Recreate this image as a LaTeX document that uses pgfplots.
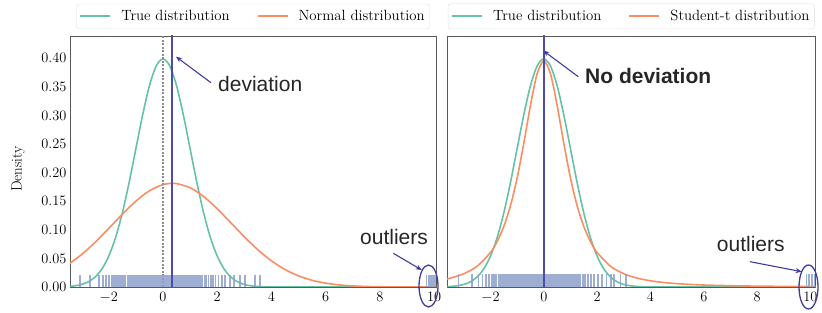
\documentclass[border=0pt]{standalone}
\usepackage{fontspec}
\usepackage{pgfplots}
\pgfplotsset{compat=1.18}
\usetikzlibrary{arrows.meta}
\newfontfamily\annfont{Liberation Sans}
\definecolor{cgreen}{HTML}{66C2A5}
\definecolor{corange}{HTML}{FC8D62}
\definecolor{crug}{HTML}{8DA0CB}
\definecolor{cline}{HTML}{4F4BAA}
\definecolor{carrow}{HTML}{3F3C9C}

\pgfplotstableread{
x y
-3.75 0.00035
-3.50 0.00087
-3.25 0.00203
-3.00 0.00443
-2.75 0.00909
-2.50 0.01753
-2.25 0.03174
-2.00 0.05399
-1.75 0.08628
-1.50 0.12952
-1.25 0.18265
-1.00 0.24197
-0.75 0.30114
-0.50 0.35207
-0.25 0.38667
0.00 0.39894
0.25 0.38667
0.50 0.35207
0.75 0.30114
1.00 0.24197
1.25 0.18265
1.50 0.12952
1.75 0.08628
2.00 0.05399
2.25 0.03174
2.50 0.01753
2.75 0.00909
3.00 0.00443
3.25 0.00203
3.50 0.00087
3.75 0.00035
4.00 0.00013
4.50 0.00002
5.00 0.0
6.00 0.0
7.00 0.0
8.00 0.0
9.00 0.0
10.00 0.0
10.50 0.0
}\truedist

\pgfplotstableread{
x y
-3.5 0.03922
-3.0 0.05688
-2.5 0.07835
-2.0 0.10251
-1.5 0.12733
-1.0 0.15021
-0.5 0.16829
0.0 0.17905
0.35 0.18133
0.5 0.18091
1.0 0.17359
1.5 0.15818
2.0 0.13688
2.5 0.11249
3.0 0.08778
3.5 0.06506
4.0 0.04579
4.5 0.03061
5.0 0.01943
5.5 0.01171
6.0 0.00671
6.5 0.00364
7.0 0.00188
7.5 0.00092
8.0 0.00043
8.5 0.00019
9.0 0.00008
9.5 0.00003
10.0 0.00001
10.5 0.0
}\normdist

\pgfplotstableread{
x y
-4.0 0.01085
-3.75 0.01292
-3.5 0.01554
-3.0 0.02320
-2.5 0.03640
-2.0 0.06041
-1.75 0.07950
-1.5 0.10594
-1.25 0.14228
-1.0 0.19082
-0.75 0.25151
-0.5 0.31778
-0.25 0.37296
0.0 0.39500
0.25 0.37296
0.5 0.31778
0.75 0.25151
1.0 0.19082
1.25 0.14228
1.5 0.10594
1.75 0.07950
2.0 0.06041
2.5 0.03640
3.0 0.02320
3.5 0.01554
4.0 0.01085
4.5 0.00784
5.0 0.00584
5.5 0.00446
6.0 0.00347
7.0 0.00223
8.0 0.00151
9.0 0.00107
10.0 0.00078
10.5 0.00068
}\tdist

\begin{document}
\begin{tikzpicture}
\useasboundingbox (0,0) rectangle (822pt,313pt);
\pgfplotsset{
  myax/.style={
    scale only axis, height=251pt, anchor=south west,
    ymin=0, ymax=0.439,
    axis line style={black!65, line width=0.9pt},
    major tick length=0pt,
    tick label style={font=\fontsize{15}{17}\selectfont},
    xticklabel style={yshift=-1.5pt},
    xtick={-2,0,2,4,6,8,10},
    legend style={at={(0.5,1)}, anchor=south, yshift=7pt, legend columns=2,
      draw=black!12, rounded corners=2.5pt, font=\fontsize{14.8}{17}\selectfont,
      inner xsep=3pt, inner ysep=4.5pt,
      /tikz/every even column/.append style={column sep=25pt},
      /tikz/every odd column/.append style={column sep=8pt}},
    every axis plot/.append style={line width=1.6pt},
  }
}
% ---------- left panel ----------
\begin{axis}[myax, at={(70pt,26pt)}, width=366pt, xmin=-3.43, xmax=10.07,
  ytick={0,0.05,0.1,0.15,0.2,0.25,0.3,0.35,0.4},
  yticklabel style={/pgf/number format/.cd, fixed, fixed zerofill, precision=2},
  ylabel={Density},
  ylabel style={at={(axis description cs:-0.142,0.47)}, anchor=center, rotate=0, font=\fontsize{15}{17}\selectfont},
]
\addplot[cgreen, smooth, legend image code/.code={\draw[cgreen, line width=2pt] (0pt,0pt) -- (30pt,0pt);}] table {\truedist};
\addlegendentry{True distribution}
\addplot[corange, smooth, legend image code/.code={\draw[corange, line width=2pt] (0pt,0pt) -- (30pt,0pt);}] table {\normdist};
\addlegendentry{Normal distribution}
\addplot[black!45, line width=1.2pt, dash pattern=on 2pt off 1.5pt, forget plot] coordinates {(0,0) (0,0.44)};
\addplot[ycomb, crug, opacity=0.85, line width=1.8pt, forget plot] coordinates {
(-3.06,0.021) (-2.70,0.021) (-2.35,0.021) (-2.21,0.021) (-2.10,0.021) (-1.98,0.021) (-1.90,0.021) (-1.84,0.021)
(-1.77,0.021) (-1.70,0.021) (-1.62,0.021) (-1.55,0.021) (-1.49,0.021) (-1.43,0.021) (-1.38,0.021) (-1.31,0.021)
(-1.27,0.021) (-1.22,0.021) (-1.16,0.021) (-1.11,0.021) (-1.05,0.021) (-1.01,0.021) (-0.96,0.021) (-0.92,0.021)
(-0.87,0.021) (-0.83,0.021) (-0.79,0.021) (-0.74,0.021) (-0.70,0.021) (-0.66,0.021) (-0.61,0.021) (-0.58,0.021)
(-0.53,0.021) (-0.49,0.021) (-0.45,0.021) (-0.41,0.021) (-0.37,0.021) (-0.33,0.021) (-0.29,0.021) (-0.25,0.021)
(-0.21,0.021) (-0.17,0.021) (-0.14,0.021) (-0.10,0.021) (-0.06,0.021) (-0.02,0.021) (0.02,0.021) (0.05,0.021)
(0.09,0.021) (0.13,0.021) (0.17,0.021) (0.20,0.021) (0.24,0.021) (0.28,0.021) (0.31,0.021) (0.35,0.021)
(0.39,0.021) (0.43,0.021) (0.47,0.021) (0.51,0.021) (0.55,0.021) (0.59,0.021) (0.63,0.021) (0.68,0.021)
(0.72,0.021) (0.77,0.021) (0.81,0.021) (0.86,0.021) (0.90,0.021) (0.95,0.021) (1.00,0.021) (1.05,0.021)
(1.10,0.021) (1.15,0.021) (1.21,0.021) (1.27,0.021) (1.33,0.021) (1.39,0.021) (1.46,0.021) (1.53,0.021)
(1.60,0.021) (1.68,0.021) (1.76,0.021) (1.85,0.021) (1.94,0.021) (2.05,0.021) (2.17,0.021) (2.30,0.021)
(2.46,0.021) (2.62,0.021) (2.85,0.021) (3.02,0.021) (3.40,0.021) (3.58,0.021)
(9.72,0.021) (9.80,0.021) (9.88,0.021) (9.96,0.021) (10.03,0.021)
};
\addplot[cline, line width=2pt, forget plot] coordinates {(0.35,0) (0.35,0.44)};
\end{axis}
% ---------- right panel ----------
\begin{axis}[myax, at={(447pt,26pt)}, width=368.5pt, xmin=-3.63, xmax=10.19,
  ytick=\empty,
]
\addplot[cgreen, smooth, legend image code/.code={\draw[cgreen, line width=2pt] (0pt,0pt) -- (30pt,0pt);}] table {\truedist};
\addlegendentry{True distribution}
\addplot[corange, smooth, legend image code/.code={\draw[corange, line width=2pt] (0pt,0pt) -- (30pt,0pt);}] table {\tdist};
\addlegendentry{Student-t distribution}
\addplot[ycomb, crug, opacity=0.85, line width=1.8pt, forget plot] coordinates {
(-3.20,0.022) (-2.68,0.022) (-2.45,0.022) (-2.30,0.022) (-2.18,0.022) (-2.05,0.022) (-1.95,0.022) (-1.86,0.022)
(-1.78,0.022) (-1.70,0.022) (-1.63,0.022) (-1.56,0.022) (-1.50,0.022) (-1.44,0.022) (-1.38,0.022) (-1.32,0.022)
(-1.26,0.022) (-1.21,0.022) (-1.15,0.022) (-1.10,0.022) (-1.05,0.022) (-1.00,0.022) (-0.95,0.022) (-0.90,0.022)
(-0.86,0.022) (-0.81,0.022) (-0.77,0.022) (-0.72,0.022) (-0.68,0.022) (-0.64,0.022) (-0.59,0.022) (-0.55,0.022)
(-0.51,0.022) (-0.47,0.022) (-0.43,0.022) (-0.39,0.022) (-0.35,0.022) (-0.31,0.022) (-0.27,0.022) (-0.23,0.022)
(-0.19,0.022) (-0.15,0.022) (-0.11,0.022) (-0.07,0.022) (-0.03,0.022) (0.01,0.022) (0.05,0.022) (0.09,0.022)
(0.13,0.022) (0.17,0.022) (0.21,0.022) (0.25,0.022) (0.29,0.022) (0.33,0.022) (0.37,0.022) (0.41,0.022)
(0.46,0.022) (0.50,0.022) (0.54,0.022) (0.59,0.022) (0.63,0.022) (0.68,0.022) (0.73,0.022) (0.78,0.022)
(0.83,0.022) (0.88,0.022) (0.93,0.022) (0.99,0.022) (1.05,0.022) (1.11,0.022) (1.17,0.022) (1.24,0.022)
(1.31,0.022) (1.38,0.022) (1.46,0.022) (1.55,0.022) (1.65,0.022) (1.76,0.022) (1.88,0.022) (2.02,0.022)
(2.18,0.022) (2.35,0.022) (2.52,0.022) (2.64,0.022) (2.88,0.022) (3.08,0.022)
(9.85,0.022) (9.95,0.022) (10.05,0.022) (10.15,0.022)
};
\addplot[cline, line width=2pt, forget plot] coordinates {(0,0) (0,0.44)};
\end{axis}
% ---------- annotations ----------
\begin{scope}[carrow, line width=1.1pt, >={Stealth[length=6pt,width=5pt]}]
\draw[->] (211pt,230.3pt) -- (176pt,256.3pt);
\draw[->] (578.3pt,236.3pt) -- (543.3pt,262.3pt);
\draw[->] (393.3pt,59.7pt) -- (421.7pt,43pt);
\draw[->] (750pt,51.3pt) -- (801.7pt,41.3pt);
\draw[line width=1.3pt] (428.5pt,27pt) ellipse [x radius=9.5pt, y radius=21pt];
\draw[line width=1.3pt] (808.5pt,26pt) ellipse [x radius=9.5pt, y radius=22pt];
\end{scope}
\node[anchor=base west, inner sep=0pt, text=black!85, font=\annfont\fontsize{21}{25}\selectfont] at (218pt,221pt) {deviation};
\node[anchor=base west, inner sep=0pt, text=black!85, font=\annfont\bfseries\fontsize{21}{25}\selectfont] at (585pt,229pt) {No deviation};
\node[anchor=base west, inner sep=0pt, text=black!85, font=\annfont\fontsize{21}{25}\selectfont] at (360pt,68pt) {outliers};
\node[anchor=base west, inner sep=0pt, text=black!85, font=\annfont\fontsize{21}{25}\selectfont] at (716.7pt,61.3pt) {outliers};
\end{tikzpicture}
\end{document}
